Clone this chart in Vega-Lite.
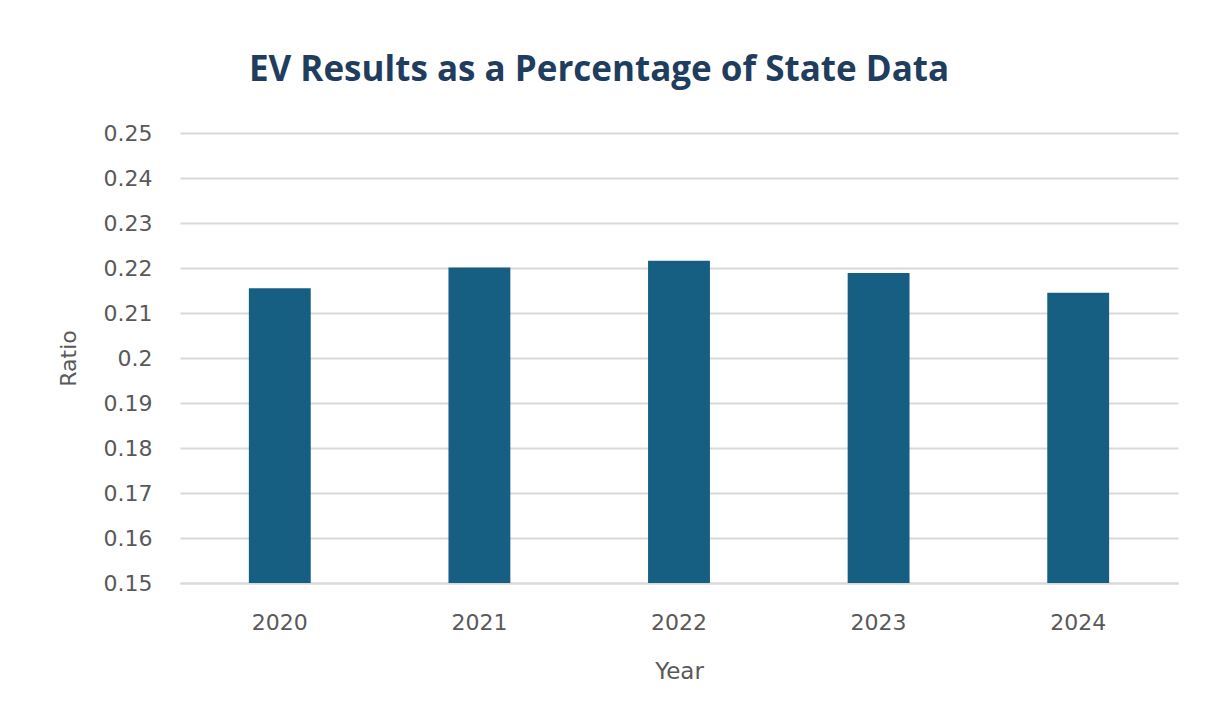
{
  "$schema": "https://vega.github.io/schema/vega-lite/v6.json",
  "autosize": "none",
  "width": 998,
  "height": 450,
  "padding": {"left": 180, "top": 133, "right": 28, "bottom": 143},
  "background": "white",
  "title": {
    "text": "EV Results as a Percentage of State Data",
    "font": "Open Sans",
    "fontWeight": "bold",
    "fontSize": 35,
    "color": "#1f3d5e",
    "anchor": "middle",
    "dx": -80,
    "offset": 34
  },
  "data": {
    "values": [
      {"Year": "2020", "Ratio": 0.2155},
      {"Year": "2021", "Ratio": 0.2201},
      {"Year": "2022", "Ratio": 0.2216},
      {"Year": "2023", "Ratio": 0.2189},
      {"Year": "2024", "Ratio": 0.2145}
    ]
  },
  "mark": {"type": "bar", "color": "#175f82", "clip": true},
  "encoding": {
    "x": {
      "field": "Year",
      "type": "nominal",
      "sort": null,
      "scale": {"paddingInner": 0.69, "paddingOuter": 0.345},
      "axis": {
        "title": "Year",
        "orient": "bottom",
        "labelAngle": 0,
        "ticks": false,
        "domain": true,
        "domainColor": "#d9d9d9",
        "domainWidth": 2,
        "labelFont": "DejaVu Sans",
        "labelFontSize": 22,
        "labelColor": "#595959",
        "labelPadding": 29,
        "titleFont": "DejaVu Sans",
        "titleFontSize": 23,
        "titleFontWeight": "normal",
        "titleColor": "#595959",
        "titlePadding": 27
      }
    },
    "y": {
      "field": "Ratio",
      "type": "quantitative",
      "scale": {"domain": [0.15, 0.25], "zero": false, "nice": false},
      "axis": {
        "title": "Ratio",
        "values": [0.15, 0.16, 0.17, 0.18, 0.19, 0.2, 0.21, 0.22, 0.23, 0.24, 0.25],
        "format": "~g",
        "ticks": false,
        "domain": false,
        "grid": true,
        "gridColor": "#d9d9d9",
        "gridWidth": 2,
        "labelFont": "DejaVu Sans",
        "labelFontSize": 22,
        "labelColor": "#595959",
        "labelPadding": 28,
        "titleFont": "DejaVu Sans",
        "titleFontSize": 22,
        "titleFontWeight": "normal",
        "titleColor": "#595959",
        "titlePadding": 23
      }
    },
    "y2": {"datum": 0.15}
  },
  "config": {"view": {"stroke": null}}
}
